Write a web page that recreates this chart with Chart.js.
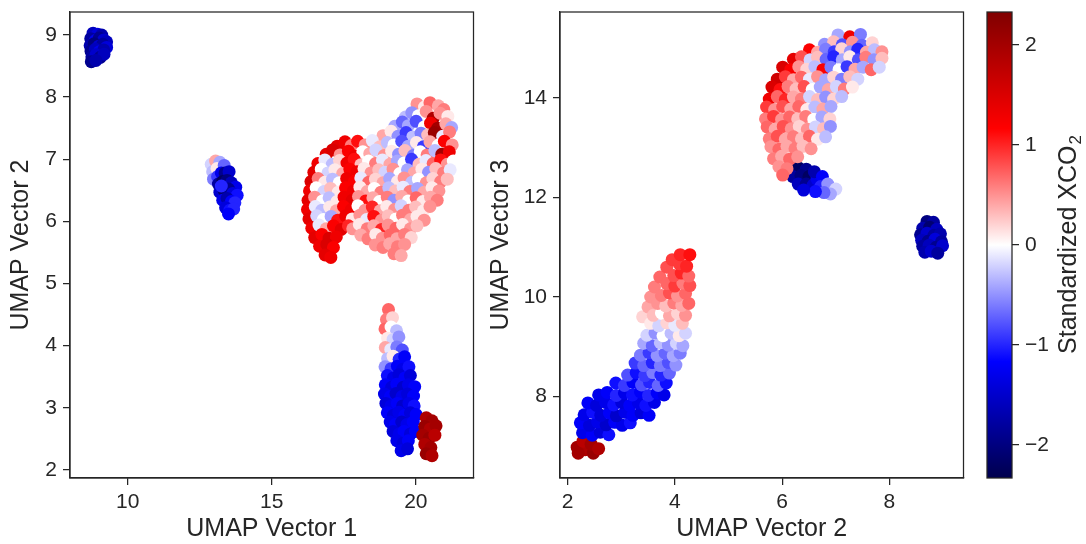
<!DOCTYPE html>
<html>
<head>
<meta charset="utf-8">
<script src="https://cdn.jsdelivr.net/npm/chart.js@4.4.1/dist/chart.umd.min.js"></script>
<style>
  body { margin: 0; background: #fff; }
  #wrap { position: relative; width: 1086px; height: 544px; }
  canvas { position: absolute; top: 0; }
</style>
</head>
<body>
<div id="wrap">
  <canvas id="c12" width="480" height="544" style="left:0"></canvas>
  <canvas id="c23" width="490" height="544" style="left:480px"></canvas>
  <canvas id="cbar" width="111" height="544" style="left:975px"></canvas>
</div>
<script>
  'use strict';

  // rows are [umap1, umap2, standardized XCO2]
  var u12Corner = [
    [8.8, 9.03, -1.6], [8.96, 9.01, -1.4], [9.1, 9.0, -1.7],
    [8.72, 8.94, -1.8], [8.88, 8.91, -1.3], [9.02, 8.95, -1.9], [9.17, 8.92, -1.5], [9.27, 8.89, -1.6],
    [8.7, 8.83, -1.7], [8.84, 8.86, -2.0], [9.0, 8.82, -1.5], [9.14, 8.85, -1.8], [9.27, 8.8, -1.4],
    [8.73, 8.74, -1.9], [8.88, 8.77, -1.6], [9.02, 8.73, -1.3], [9.17, 8.76, -1.7],
    [8.76, 8.65, -1.8], [8.9, 8.68, -1.5], [9.05, 8.64, -1.9], [9.18, 8.69, -1.6],
    [8.74, 8.57, -1.9], [8.9, 8.59, -1.7]
  ];
  var u12Small = [
    [12.9, 6.92, -0.2], [13.05, 6.97, 0.4], [13.2, 6.95, -0.4], [12.95, 6.8, -0.3],
    [13.1, 6.85, 0.1], [13.35, 6.9, -0.7], [12.98, 6.68, -0.6], [13.12, 6.72, -0.9],
    [13.25, 6.78, -1.3], [13.38, 6.78, -1.9], [13.52, 6.8, -1.5], [13.15, 6.6, -1.8],
    [13.3, 6.64, -2.2], [13.45, 6.66, -2.0], [13.6, 6.62, -1.6], [13.75, 6.55, -1.3],
    [13.2, 6.47, -1.5], [13.35, 6.5, -2.1], [13.5, 6.52, -1.9], [13.65, 6.45, -1.4],
    [13.8, 6.42, -1.1], [13.3, 6.34, -1.3], [13.45, 6.37, -1.7], [13.6, 6.32, -1.2],
    [13.72, 6.3, -1.0], [13.4, 6.22, -1.4], [13.55, 6.18, -1.1], [13.68, 6.2, -1.0],
    [13.5, 6.12, -1.2], [13.25, 6.57, -1.0]
  ];
  var u12Main = [
    [20.04, 7.89, 0.5], [20.3, 7.84, 0.1], [20.49, 7.91, 0.7], [20.78, 7.86, 0.4], [20.97, 7.8, 0.6],
    [19.64, 7.68, -0.3], [19.86, 7.75, -0.5], [20.09, 7.7, 0.0], [20.36, 7.77, 0.5], [20.6, 7.66, 1.9],
    [20.84, 7.74, 0.5], [21.11, 7.69, 0.1],
    [19.27, 7.53, -0.4], [19.53, 7.6, -0.7], [19.74, 7.54, -0.4], [20.01, 7.61, -0.8], [20.29, 7.52, 0.0],
    [20.51, 7.58, 1.3], [20.76, 7.5, 2.0], [21.04, 7.57, 0.4], [21.24, 7.51, -0.4],
    [18.86, 7.38, 0.4], [19.14, 7.45, 0.1], [19.38, 7.37, -0.5], [19.66, 7.43, -0.9], [19.89, 7.36, -0.3],
    [20.18, 7.42, -0.6], [20.41, 7.39, 0.3], [20.64, 7.43, 2.1], [20.93, 7.37, -0.1], [21.17, 7.44, 0.6],
    [17.27, 7.21, 1.4], [17.54, 7.28, 1.3], [17.76, 7.22, 0.6], [17.98, 7.29, 1.1], [18.24, 7.23, 0.5],
    [18.49, 7.3, -0.1], [18.75, 7.2, 0.3], [19.01, 7.27, -0.3], [19.24, 7.23, 0.0], [19.51, 7.29, -0.8],
    [19.74, 7.21, -0.4], [20.02, 7.27, 0.1], [20.26, 7.2, -0.9], [20.49, 7.28, 0.4], [20.77, 7.22, 0.0],
    [20.99, 7.29, 1.2], [21.26, 7.23, 0.5],
    [16.89, 7.08, 1.4], [17.11, 7.15, 1.5], [17.37, 7.07, 0.5], [17.66, 7.13, 1.2], [17.89, 7.05, 1.3],
    [18.16, 7.12, 0.0], [18.4, 7.09, 0.4], [18.61, 7.15, -0.2], [18.9, 7.06, 0.5], [19.16, 7.13, 0.1],
    [19.4, 7.08, -0.5], [19.62, 7.14, 0.3], [19.91, 7.06, -0.6], [20.15, 7.12, 0.0], [20.39, 7.07, 0.6],
    [20.66, 7.14, -0.3], [20.9, 7.08, 2.0], [21.16, 7.12, 1.3],
    [16.6, 6.93, 1.3], [16.84, 6.99, -0.1], [17.1, 6.92, -0.3], [17.35, 6.98, 0.2], [17.61, 6.94, 1.3],
    [17.86, 7.0, 1.1], [18.09, 6.91, 0.3], [18.36, 6.97, 0.0], [18.6, 6.93, 0.6], [18.84, 6.99, -0.1],
    [19.1, 6.92, 0.4], [19.36, 6.97, -0.4], [19.59, 6.94, 0.0], [19.85, 7.0, -0.9], [20.11, 6.92, 0.3],
    [20.35, 6.98, -0.1], [20.6, 6.93, 0.7], [20.86, 6.99, 1.1], [21.09, 6.92, 0.5], [21.3, 6.97, 0.0],
    [16.46, 6.79, 1.4], [16.72, 6.84, 0.0], [16.95, 6.78, -0.2], [17.19, 6.83, 0.1], [17.46, 6.77, 0.4],
    [17.71, 6.84, 1.2], [17.96, 6.8, 1.3], [18.2, 6.85, 0.1], [18.44, 6.78, 0.5], [18.71, 6.83, 0.3],
    [18.93, 6.79, -0.2], [19.21, 6.84, 0.5], [19.44, 6.77, 0.0], [19.71, 6.83, -0.4], [19.94, 6.78, 0.4],
    [20.21, 6.84, 0.1], [20.44, 6.79, -0.5], [20.69, 6.85, 0.3], [20.96, 6.78, 0.6], [21.19, 6.83, -0.1],
    [16.36, 6.64, 1.5], [16.61, 6.69, 0.6], [16.84, 6.63, 0.1], [17.11, 6.68, -0.3], [17.34, 6.62, 0.0],
    [17.6, 6.69, 1.3], [17.87, 6.64, 1.2], [18.09, 6.7, -0.1], [18.36, 6.63, 0.7], [18.6, 6.68, 0.2],
    [18.86, 6.62, 0.4], [19.09, 6.69, -0.4], [19.36, 6.64, 0.1], [19.59, 6.7, 0.5], [19.86, 6.63, -0.3],
    [20.09, 6.68, 0.0], [20.36, 6.62, 0.5], [20.59, 6.69, 0.2], [20.86, 6.64, 0.6], [21.09, 6.68, 0.3],
    [16.31, 6.49, 1.3], [16.54, 6.54, 0.0], [16.81, 6.48, -0.2], [17.04, 6.53, 0.3], [17.31, 6.47, 0.1],
    [17.56, 6.54, 1.2], [17.83, 6.49, 1.3], [18.06, 6.55, 0.1], [18.31, 6.48, 0.4], [18.56, 6.53, 0.0],
    [18.79, 6.47, 0.6], [19.06, 6.54, -0.3], [19.29, 6.49, 0.3], [19.56, 6.55, -0.1], [19.79, 6.48, 0.6],
    [20.06, 6.53, -0.4], [20.29, 6.47, 0.4], [20.56, 6.54, 0.1], [20.8, 6.49, 0.5],
    [16.26, 6.34, 1.4], [16.49, 6.39, 0.5], [16.76, 6.33, 0.0], [16.99, 6.38, -0.3], [17.26, 6.32, 0.1],
    [17.51, 6.39, 1.3], [17.79, 6.34, 1.4], [18.01, 6.4, 0.5], [18.26, 6.33, 1.1], [18.51, 6.38, 0.4],
    [18.74, 6.32, 0.0], [19.01, 6.39, 0.6], [19.24, 6.34, -0.5], [19.51, 6.4, 0.4], [19.74, 6.33, 0.0],
    [20.01, 6.38, 0.7], [20.24, 6.32, 0.1], [20.51, 6.39, 0.4], [20.74, 6.34, 0.6],
    [16.24, 6.19, 1.3], [16.51, 6.24, -0.1], [16.74, 6.18, -0.3], [17.01, 6.23, 0.1], [17.24, 6.17, 0.4],
    [17.49, 6.24, 1.2], [17.76, 6.19, 1.3], [17.99, 6.25, 0.0], [18.24, 6.18, 0.5], [18.49, 6.23, 1.0],
    [18.76, 6.17, 0.4], [18.99, 6.24, 0.1], [19.26, 6.19, 0.5], [19.49, 6.25, -0.2], [19.76, 6.18, 0.6],
    [19.99, 6.23, 0.3], [20.26, 6.17, 0.1], [20.49, 6.24, 0.5],
    [16.29, 6.04, 1.4], [16.56, 6.09, -0.2], [16.79, 6.03, 0.0], [17.06, 6.08, -0.4], [17.29, 6.02, 1.1],
    [17.56, 6.09, 1.3], [17.79, 6.04, 0.1], [18.06, 6.1, 0.5], [18.29, 6.03, -0.1], [18.54, 6.08, 1.1],
    [18.81, 6.02, 0.5], [19.04, 6.09, 0.3], [19.31, 6.04, 0.0], [19.54, 6.1, 0.6], [19.81, 6.03, 0.4],
    [20.04, 6.08, 0.1], [20.29, 6.02, 0.5],
    [16.39, 5.89, 1.3], [16.64, 5.94, -0.1], [16.89, 5.88, 0.4], [17.14, 5.93, 1.2], [17.41, 5.87, 1.4],
    [17.66, 5.93, 1.0], [17.81, 5.88, 0.5], [18.04, 5.95, 0.1], [18.31, 5.88, 0.6], [18.54, 5.93, 0.4],
    [18.81, 5.87, 1.0], [19.04, 5.94, 0.5], [19.31, 5.89, 0.7], [19.54, 5.95, 0.1], [19.81, 5.88, 0.5],
    [20.04, 5.93, 0.3],
    [16.49, 5.74, 1.4], [16.74, 5.79, 1.2], [16.99, 5.73, 1.5], [17.24, 5.75, 1.3], [18.09, 5.78, 0.4],
    [18.34, 5.72, 0.6], [18.61, 5.79, 0.1], [18.84, 5.73, 0.5], [19.11, 5.78, 0.7], [19.34, 5.72, 0.4],
    [19.61, 5.79, 0.6], [19.84, 5.74, 0.2],
    [16.66, 5.6, 1.3], [16.91, 5.63, 1.5], [17.14, 5.58, 1.2], [18.59, 5.62, 0.5], [18.86, 5.58, 0.6],
    [19.09, 5.64, 0.4], [19.36, 5.59, 0.6], [19.61, 5.63, 0.5],
    [16.85, 5.46, 1.4], [17.05, 5.42, 1.3], [19.24, 5.48, 0.6], [19.49, 5.45, 0.4]
  ];
  var u12Lower = [
    [19.05, 4.58, 0.7],
    [18.98, 4.42, 0.6], [19.19, 4.45, 0.2],
    [18.93, 4.27, 0.7], [19.14, 4.3, 0.0], [19.33, 4.24, -0.3],
    [19.02, 4.12, 0.1], [19.21, 4.1, -0.2], [19.41, 4.14, -0.5],
    [18.94, 3.97, 0.4], [19.13, 3.94, -0.1], [19.34, 3.98, -0.6], [19.53, 3.93, -0.8],
    [19.02, 3.79, -0.3], [19.21, 3.83, 0.1], [19.42, 3.78, -1.0], [19.61, 3.82, -1.2],
    [18.93, 3.66, -0.5], [19.14, 3.63, -0.9], [19.36, 3.67, -1.2], [19.54, 3.62, -1.3], [19.76, 3.66, -1.1],
    [19.01, 3.52, -1.1], [19.22, 3.48, -1.3], [19.41, 3.53, -1.4], [19.62, 3.48, -1.2], [19.81, 3.52, -1.4],
    [18.94, 3.37, -1.2], [19.16, 3.33, -1.4], [19.34, 3.38, -1.2], [19.56, 3.33, -1.5], [19.74, 3.37, -1.3],
    [19.96, 3.34, -1.2],
    [18.91, 3.22, -1.3], [19.12, 3.18, -1.2], [19.31, 3.23, -1.5], [19.52, 3.18, -1.3], [19.71, 3.22, -1.4],
    [19.92, 3.19, -1.2],
    [18.96, 3.07, -1.4], [19.14, 3.03, -1.3], [19.36, 3.07, -1.2], [19.54, 3.03, -1.5], [19.76, 3.07, -1.3],
    [19.94, 3.03, -1.1],
    [19.01, 2.92, -1.2], [19.22, 2.88, -1.4], [19.41, 2.93, -1.3], [19.62, 2.88, -1.2], [19.81, 2.92, -1.4],
    [20.01, 2.89, -1.2],
    [19.11, 2.77, -1.3], [19.29, 2.73, -1.2], [19.51, 2.77, -1.5], [19.69, 2.73, -1.3], [19.91, 2.77, -1.2],
    [19.21, 2.62, -1.4], [19.42, 2.58, -1.3], [19.59, 2.62, -1.2], [19.81, 2.58, -1.4], [19.99, 2.62, -1.2],
    [19.34, 2.47, -1.3], [19.56, 2.43, -1.4], [19.74, 2.47, -1.2],
    [19.49, 2.31, -1.3], [19.71, 2.34, -1.4],
    [20.36, 2.84, 1.9], [20.56, 2.79, 2.0], [20.31, 2.7, 2.1], [20.5, 2.66, 1.9], [20.7, 2.71, 2.0],
    [20.24, 2.56, 2.0], [20.46, 2.51, 2.1], [20.66, 2.56, 1.8], [20.31, 2.41, 1.9], [20.52, 2.36, 2.0],
    [20.36, 2.26, 2.1], [20.56, 2.23, 1.9]
  ];

  // rows are [umap2, umap3, standardized XCO2]
  var u23Corner = [
    [8.7, 11.52, -2.0], [8.82, 11.5, -1.8],
    [8.62, 11.38, -1.7], [8.75, 11.4, -2.1], [8.88, 11.36, -1.6],
    [8.58, 11.25, -1.9], [8.7, 11.28, -1.5], [8.83, 11.24, -1.8], [8.95, 11.27, -1.7],
    [8.6, 11.14, -1.6], [8.72, 11.12, -1.9], [8.85, 11.16, -1.4], [8.97, 11.11, -1.8],
    [8.62, 11.02, -1.8], [8.74, 11.04, -1.6], [8.87, 11.0, -1.9], [8.99, 11.03, -1.5],
    [8.66, 10.9, -1.7], [8.78, 10.92, -1.5], [8.9, 10.88, -1.8]
  ];
  var u23Small = [
    [6.15, 12.55, -2.1], [6.3, 12.6, -2.2], [6.45, 12.57, -1.9], [6.2, 12.42, -1.8],
    [6.35, 12.44, -2.0], [6.5, 12.42, -2.2], [6.3, 12.27, -1.6], [6.45, 12.27, -1.9],
    [6.58, 12.25, -1.5], [6.65, 12.37, -1.3], [6.6, 12.52, -1.7], [6.75, 12.42, -1.2],
    [6.72, 12.22, -1.0], [6.85, 12.27, -0.5], [7.0, 12.17, -0.2], [6.9, 12.07, -0.4],
    [6.78, 12.1, -0.7], [6.62, 12.12, -1.1], [6.4, 12.15, -1.4]
  ];
  var u23Main = [
    [7.04, 15.27, -0.4], [7.26, 15.23, 1.3], [7.46, 15.28, -0.6],
    [6.79, 15.08, -0.5], [6.96, 15.13, 0.3], [7.12, 15.07, -0.8], [7.31, 15.12, 0.5], [7.49, 15.06, -0.7],
    [7.68, 15.11, 0.2],
    [6.51, 14.97, 1.2], [6.66, 14.92, 0.4], [6.81, 14.98, -0.6], [6.97, 14.93, -0.9], [7.11, 14.99, 0.2],
    [7.27, 14.93, -0.5], [7.41, 14.98, -1.0], [7.57, 14.92, 0.4], [7.72, 14.97, -0.3], [7.86, 14.93, 0.5],
    [6.21, 14.78, 1.4], [6.36, 14.83, 0.8], [6.52, 14.77, -0.2], [6.66, 14.82, 0.3], [6.82, 14.78, -0.7],
    [6.96, 14.83, -1.0], [7.12, 14.77, -0.4], [7.26, 14.83, 0.1], [7.42, 14.77, -0.8], [7.56, 14.82, 0.6],
    [7.71, 14.77, -0.5], [7.86, 14.8, 0.3],
    [6.01, 14.62, 1.5], [6.16, 14.57, 1.2], [6.31, 14.63, 0.5], [6.46, 14.58, 0.2], [6.61, 14.63, -0.3],
    [6.76, 14.57, 1.2], [6.91, 14.62, -0.6], [7.06, 14.57, 0.0], [7.21, 14.63, -0.9], [7.36, 14.58, 0.4],
    [7.51, 14.62, -0.4], [7.66, 14.57, 0.7], [7.81, 14.62, -0.2],
    [5.91, 14.38, 1.6], [6.06, 14.43, 0.9], [6.21, 14.37, 0.4], [6.36, 14.42, 0.7], [6.51, 14.38, -0.1],
    [6.66, 14.43, 0.5], [6.81, 14.37, -0.4], [6.96, 14.42, 0.2], [7.11, 14.38, -0.6], [7.26, 14.43, 0.3],
    [7.41, 14.38, -0.2],
    [5.81, 14.22, 1.5], [5.96, 14.17, 1.1], [6.11, 14.23, 0.6], [6.26, 14.18, 0.3], [6.41, 14.23, 0.8],
    [6.56, 14.17, 0.0], [6.71, 14.22, -0.4], [6.86, 14.17, 0.4], [7.01, 14.23, -0.2], [7.16, 14.18, 0.6],
    [7.31, 14.22, 0.1],
    [5.76, 13.98, 1.3], [5.91, 14.03, 0.7], [6.06, 13.97, 1.0], [6.21, 14.02, 0.4], [6.36, 13.98, 0.6],
    [6.51, 14.03, -0.2], [6.66, 13.97, 0.3], [6.81, 14.02, -0.5], [6.96, 13.98, 0.2], [7.11, 14.03, -0.3],
    [5.71, 13.82, 0.9], [5.86, 13.77, 0.5], [6.01, 13.83, 0.8], [6.16, 13.78, 0.4], [6.31, 13.83, 0.7],
    [6.46, 13.77, 0.1], [6.61, 13.82, -0.3], [6.76, 13.78, 0.4], [6.91, 13.83, -0.4],
    [5.69, 13.58, 0.6], [5.84, 13.63, 0.9], [5.99, 13.57, 0.5], [6.14, 13.62, 0.7], [6.29, 13.58, 0.3],
    [6.44, 13.63, 0.6], [6.59, 13.57, 0.0], [6.74, 13.62, -0.4], [6.89, 13.58, 0.2],
    [5.72, 13.42, 0.7], [5.87, 13.37, 0.4], [6.02, 13.43, 0.8], [6.17, 13.38, 0.5], [6.32, 13.43, 0.2],
    [6.47, 13.37, 0.5], [6.62, 13.42, -0.2], [6.77, 13.38, 0.3], [6.9, 13.43, -0.5],
    [5.76, 13.18, 0.6], [5.91, 13.23, 0.8], [6.06, 13.17, 0.4], [6.21, 13.22, 0.6], [6.36, 13.18, 0.3],
    [6.51, 13.23, 0.7], [6.66, 13.17, 0.1], [6.81, 13.22, -0.3],
    [5.79, 13.02, 0.5], [5.94, 12.97, 0.7], [6.09, 13.03, 0.4], [6.24, 12.98, 0.6], [6.39, 13.03, 0.3],
    [6.54, 12.98, 0.5],
    [5.84, 12.78, 0.6], [5.99, 12.83, 0.4], [6.14, 12.77, 0.7], [6.29, 12.82, 0.5],
    [5.94, 12.62, 0.5], [6.09, 12.58, 0.6], [6.01, 12.45, 0.7]
  ];
  var u23Lower = [
    [2.18, 6.98, 2.0], [2.33, 6.93, 1.9], [2.48, 6.86, 2.1], [2.29, 7.1, 1.8], [2.44, 7.04, 2.0],
    [2.58, 6.95, 1.9], [2.2, 6.86, 2.0],
    [2.28, 7.27, -1.3], [2.46, 7.22, -1.2], [2.61, 7.28, -1.4], [2.77, 7.23, -1.1],
    [2.24, 7.47, -1.2], [2.41, 7.42, -1.4], [2.56, 7.49, -1.3], [2.72, 7.43, -1.5], [2.88, 7.48, -1.2],
    [3.02, 7.42, -1.3], [3.17, 7.47, -1.1],
    [2.31, 7.63, -1.3], [2.47, 7.68, -1.1], [2.62, 7.62, -1.4], [2.78, 7.67, -1.2], [2.91, 7.61, -1.5],
    [3.07, 7.68, -1.3], [3.22, 7.62, -1.2], [3.37, 7.67, -1.4], [3.52, 7.62, -1.2],
    [2.38, 7.87, -1.2], [2.54, 7.82, -1.4], [2.71, 7.88, -1.3], [2.86, 7.83, -1.1], [3.01, 7.88, -1.4],
    [3.16, 7.82, -1.2], [3.32, 7.87, -1.3], [3.46, 7.82, -1.1], [3.62, 7.88, -1.3],
    [2.58, 8.03, -1.3], [2.74, 8.08, -1.2], [2.91, 8.02, -1.0], [3.06, 8.07, -1.3], [3.21, 8.03, -1.1],
    [3.36, 8.09, -1.2], [3.51, 8.02, -1.0], [3.67, 8.07, -1.2], [3.8, 8.03, -1.3],
    [2.9, 8.27, -1.1], [3.06, 8.22, -0.9], [3.22, 8.28, -1.2], [3.38, 8.23, -0.8], [3.53, 8.28, -1.0],
    [3.69, 8.22, -0.7], [3.84, 8.27, -1.1],
    [3.12, 8.43, -0.8], [3.28, 8.48, -1.1], [3.44, 8.42, -0.9], [3.59, 8.48, -0.6], [3.74, 8.43, -1.0],
    [3.9, 8.47, -0.7],
    [3.26, 8.67, -0.9], [3.42, 8.62, -0.7], [3.58, 8.68, -1.0], [3.73, 8.62, -0.6], [3.88, 8.68, -0.8],
    [4.02, 8.63, -0.5],
    [3.36, 8.83, -0.6], [3.52, 8.88, -0.9], [3.67, 8.82, -0.5], [3.82, 8.87, -0.7], [3.97, 8.82, -0.4],
    [4.1, 8.87, -0.6],
    [3.42, 9.07, -0.4], [3.58, 9.02, -0.7], [3.73, 9.08, -0.3], [3.88, 9.03, -0.5], [4.03, 9.07, -0.2],
    [4.15, 9.02, -0.4],
    [3.35, 9.4, 0.0], [3.4, 9.6, 0.2], [3.5, 9.8, 0.4], [3.55, 10.0, 0.5], [3.62, 10.2, 0.6],
    [3.72, 10.4, 0.7], [3.85, 10.6, 0.8], [3.95, 10.75, 0.9],
    [3.48, 9.23, -0.2], [3.63, 9.28, -0.5], [3.78, 9.22, 0.0], [3.93, 9.27, -0.3], [4.08, 9.22, 0.1],
    [4.2, 9.27, -0.2],
    [3.55, 9.47, 0.1], [3.7, 9.42, -0.2], [3.85, 9.48, 0.2], [4.0, 9.43, -0.1], [4.14, 9.47, 0.3],
    [3.6, 9.63, 0.3], [3.75, 9.68, 0.0], [3.9, 9.62, 0.4], [4.05, 9.67, 0.2], [4.2, 9.63, 0.5],
    [3.68, 9.87, 0.5], [3.83, 9.82, 0.3], [3.98, 9.88, 0.6], [4.13, 9.83, 0.4], [4.26, 9.87, 0.7],
    [3.75, 10.03, 0.6], [3.9, 10.08, 0.8], [4.05, 10.02, 0.5], [4.2, 10.07, 0.7],
    [3.85, 10.27, 0.7], [4.0, 10.22, 0.9], [4.15, 10.28, 0.6], [4.28, 10.23, 0.8],
    [3.98, 10.43, 0.8], [4.12, 10.48, 1.0], [4.26, 10.42, 0.7],
    [4.08, 10.67, 0.9], [4.22, 10.62, 1.0], [4.1, 10.85, 1.0], [4.28, 10.85, 1.1]
  ];

  var ticksU1 = [10, 15, 20];
  var ticksU2Left = [2, 3, 4, 5, 6, 7, 8, 9];
  var ticksU2Bottom = [2, 4, 6, 8];
  var ticksU3 = [8, 10, 12, 14];
  var ticksXco2 = [-2, -1, 0, 1, 2];
  var xco2Min = -2.33;
  var xco2Max = 2.33;

  var ink = '#262626';
  var family = '"Liberation Sans", Arial, sans-serif';

  // matplotlib "seismic" anchors
  var seismicStops = [
    [0, 0, 77], [0, 0, 255], [255, 255, 255], [255, 0, 0], [128, 0, 0]
  ];

  function seismic(v) {
    var t = (v - xco2Min) / (xco2Max - xco2Min);
    t = Math.max(0, Math.min(1, t)) * 4;
    var i = Math.min(3, Math.floor(t));
    var f = t - i;
    var a = seismicStops[i], b = seismicStops[i + 1];
    return 'rgb(' + [0, 1, 2].map(function (k) {
      return Math.round(a[k] + (b[k] - a[k]) * f);
    }).join(',') + ')';
  }

  var frame = {
    id: 'frame',
    afterDraw: function (chart) {
      var a = chart.chartArea, ctx = chart.ctx;
      ctx.save();
      ctx.strokeStyle = ink;
      ctx.lineWidth = 1.25;
      ctx.strokeRect(a.left, a.top, a.right - a.left, a.bottom - a.top);
      ctx.restore();
    }
  };

  function fixedTicks(list) {
    return function (scale) {
      scale.ticks = list.map(function (v) { return { value: v }; });
    };
  }

  function axis(opts) {
    var horizontal = opts.horizontal;
    return {
      type: 'linear',
      position: opts.position,
      min: opts.min,
      max: opts.max,
      afterBuildTicks: fixedTicks(opts.ticks),
      afterFit: function (s) {
        if (horizontal) {
          s.height = opts.size;
          s.paddingLeft = 0;
          s.paddingRight = 0;
        } else {
          s.width = opts.size;
          s.paddingTop = 0;
          s.paddingBottom = 0;
        }
      },
      grid: {
        display: true, drawOnChartArea: false, drawTicks: true,
        tickLength: 7, color: ink, lineWidth: 1.25
      },
      border: { display: true, color: ink, width: 1.25 },
      ticks: {
        autoSkip: false, maxRotation: 0, color: ink,
        padding: horizontal ? 5 : 6,
        font: { family: family, size: 21 },
        callback: function (v) { return v < 0 ? '\u2212' + Math.abs(v) : String(v); }
      },
      title: {
        display: !!opts.title, text: opts.title, color: ink,
        font: { family: family, size: 25 },
        padding: horizontal ? { top: 0, bottom: 0 } : { top: 6, bottom: 0 }
      }
    };
  }

  function points(rows) {
    return rows.map(function (r) { return { x: r[0], y: r[1], v: r[2] }; });
  }

  function scatter(id, rows, x, y, padRight) {
    var data = points(rows);
    return new Chart(document.getElementById(id), {
      type: 'scatter',
      data: {
        datasets: [{
          data: data,
          pointRadius: 6.5,
          pointHoverRadius: 6.5,
          borderWidth: 0,
          pointBorderWidth: 0,
          pointBackgroundColor: data.map(function (p) { return seismic(p.v); })
        }]
      },
      options: {
        responsive: false,
        animation: false,
        events: [],
        layout: { padding: { top: 12, right: padRight, left: 0, bottom: 0 } },
        plugins: { legend: { display: false }, tooltip: { enabled: false } },
        scales: { x: x, y: y }
      },
      plugins: [frame]
    });
  }

  scatter('c12', [].concat(u12Corner, u12Small, u12Main, u12Lower),
    axis({ horizontal: true, position: 'bottom', min: 8, max: 22, ticks: ticksU1, size: 66, title: 'UMAP Vector 1' }),
    axis({ horizontal: false, position: 'left', min: 1.87, max: 9.37, ticks: ticksU2Left, size: 70, title: 'UMAP Vector 2' }),
    2);

  scatter('c23', [].concat(u23Corner, u23Small, u23Main, u23Lower),
    axis({ horizontal: true, position: 'bottom', min: 1.86, max: 9.38, ticks: ticksU2Bottom, size: 66, title: 'UMAP Vector 2' }),
    axis({ horizontal: false, position: 'left', min: 6.36, max: 15.73, ticks: ticksU3, size: 80, title: 'UMAP Vector 3' }),
    2);

  // colour bar: one floating bar spanning the value range, filled with the map
  var barTitle = {
    id: 'barTitle',
    afterDraw: function (chart) {
      var ctx = chart.ctx, a = chart.chartArea;
      var main = 'Standardized XCO', sub = '2';
      ctx.save();
      ctx.fillStyle = ink;
      ctx.textBaseline = 'middle';
      ctx.font = '25px ' + family;
      var w1 = ctx.measureText(main).width;
      ctx.font = '17px ' + family;
      var w2 = ctx.measureText(sub).width;
      ctx.translate(94, (a.top + a.bottom) / 2);
      ctx.rotate(-Math.PI / 2);
      var x0 = -(w1 + w2) / 2;
      ctx.font = '25px ' + family;
      ctx.fillText(main, x0, 0);
      ctx.font = '17px ' + family;
      ctx.fillText(sub, x0 + w1 + 1, 7);
      ctx.restore();
    }
  };

  var cbY = axis({ horizontal: false, position: 'right', min: xco2Min, max: xco2Max, ticks: ticksXco2, size: 74 });
  cbY.border.display = false;

  new Chart(document.getElementById('cbar'), {
    type: 'bar',
    data: {
      labels: ['XCO2'],
      datasets: [{
        data: [[xco2Min, xco2Max]],
        barPercentage: 1,
        categoryPercentage: 1,
        borderWidth: 0,
        backgroundColor: function (c) {
          var a = c.chart.chartArea;
          if (!a) return '#888';
          var g = c.chart.ctx.createLinearGradient(0, a.bottom, 0, a.top);
          seismicStops.forEach(function (s, i) {
            g.addColorStop(i / 4, 'rgb(' + s.join(',') + ')');
          });
          return g;
        }
      }]
    },
    options: {
      responsive: false,
      animation: false,
      events: [],
      layout: { padding: { top: 12, left: 12, right: 0, bottom: 66 } },
      plugins: { legend: { display: false }, tooltip: { enabled: false } },
      scales: {
        x: { display: false },
        y: cbY
      }
    },
    plugins: [frame, barTitle]
  });
</script>
</body>
</html>
